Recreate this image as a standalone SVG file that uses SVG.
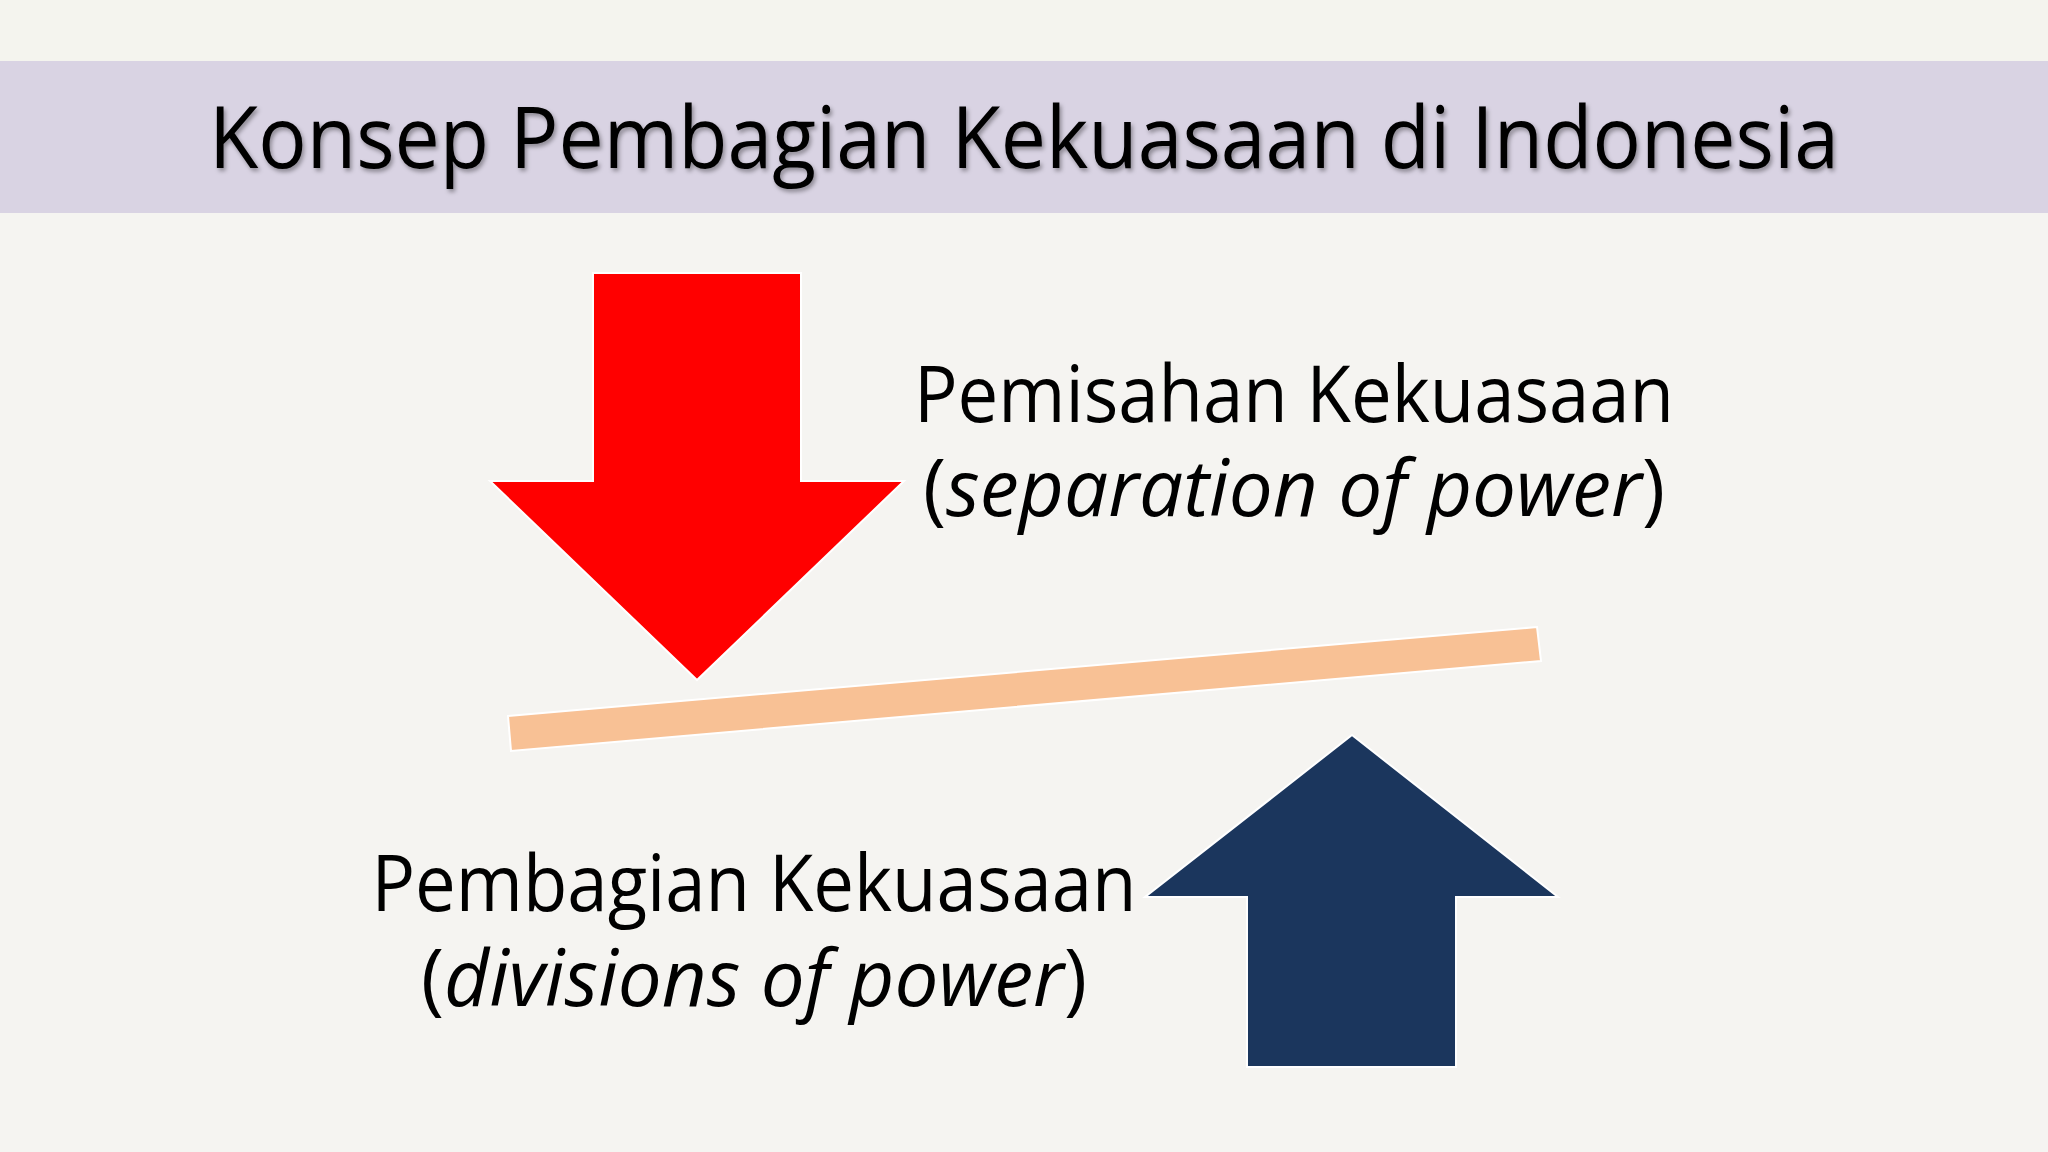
<svg xmlns="http://www.w3.org/2000/svg" width="2048" height="1152" viewBox="0 0 2048 1152">
<defs>
<style>
.t{font-family:"Open Sans","Liberation Sans",sans-serif;fill:#000}
.lbl{font-size:78px}
</style>
<filter id="sh"><feDropShadow dx="2" dy="3" stdDeviation="2" flood-color="#000" flood-opacity="0.35"/></filter>
</defs>
<rect width="2048" height="1152" fill="#f5f4f1"/>
<rect y="0" width="2048" height="61" fill="#f4f4ee"/>
<g id="title">
<rect y="61" width="2048" height="152" fill="#d9d3e3"/>
<text class="t" x="1024" y="168" text-anchor="middle" font-size="86" textLength="1630" lengthAdjust="spacingAndGlyphs" filter="url(#sh)">Konsep Pembagian Kekuasaan di Indonesia</text>
</g>
<g id="red-arrow"><polygon points="593,273 801,273 801,481 904,481 697,680 490,481 593,481" fill="#ff0000" stroke="#fff" stroke-width="2"/></g>
<g id="bar"><polygon points="508,716 1537,627 1541,661 511,751" fill="#f8c195" stroke="#fff" stroke-width="2"/></g>
<g id="blue-arrow"><polygon points="1352,735 1558,897 1456,897 1456,1067 1247,1067 1247,897 1145,897" fill="#1b365d" stroke="#fff" stroke-width="2"/></g>
<g id="sep">
<text class="t lbl" x="1294" y="422" text-anchor="middle" textLength="760" lengthAdjust="spacingAndGlyphs">Pemisahan Kekuasaan</text>
<text class="t lbl" x="1294" y="516" text-anchor="middle" textLength="742" lengthAdjust="spacingAndGlyphs">(<tspan font-style="italic">separation of power</tspan>)</text>
</g>
<g id="div">
<text class="t lbl" x="754" y="911" text-anchor="middle" textLength="765" lengthAdjust="spacingAndGlyphs">Pembagian Kekuasaan</text>
<text class="t lbl" x="754" y="1006" text-anchor="middle" textLength="666" lengthAdjust="spacingAndGlyphs">(<tspan font-style="italic">divisions of power</tspan>)</text>
</g>
<g id="connectors"/>
</svg>
